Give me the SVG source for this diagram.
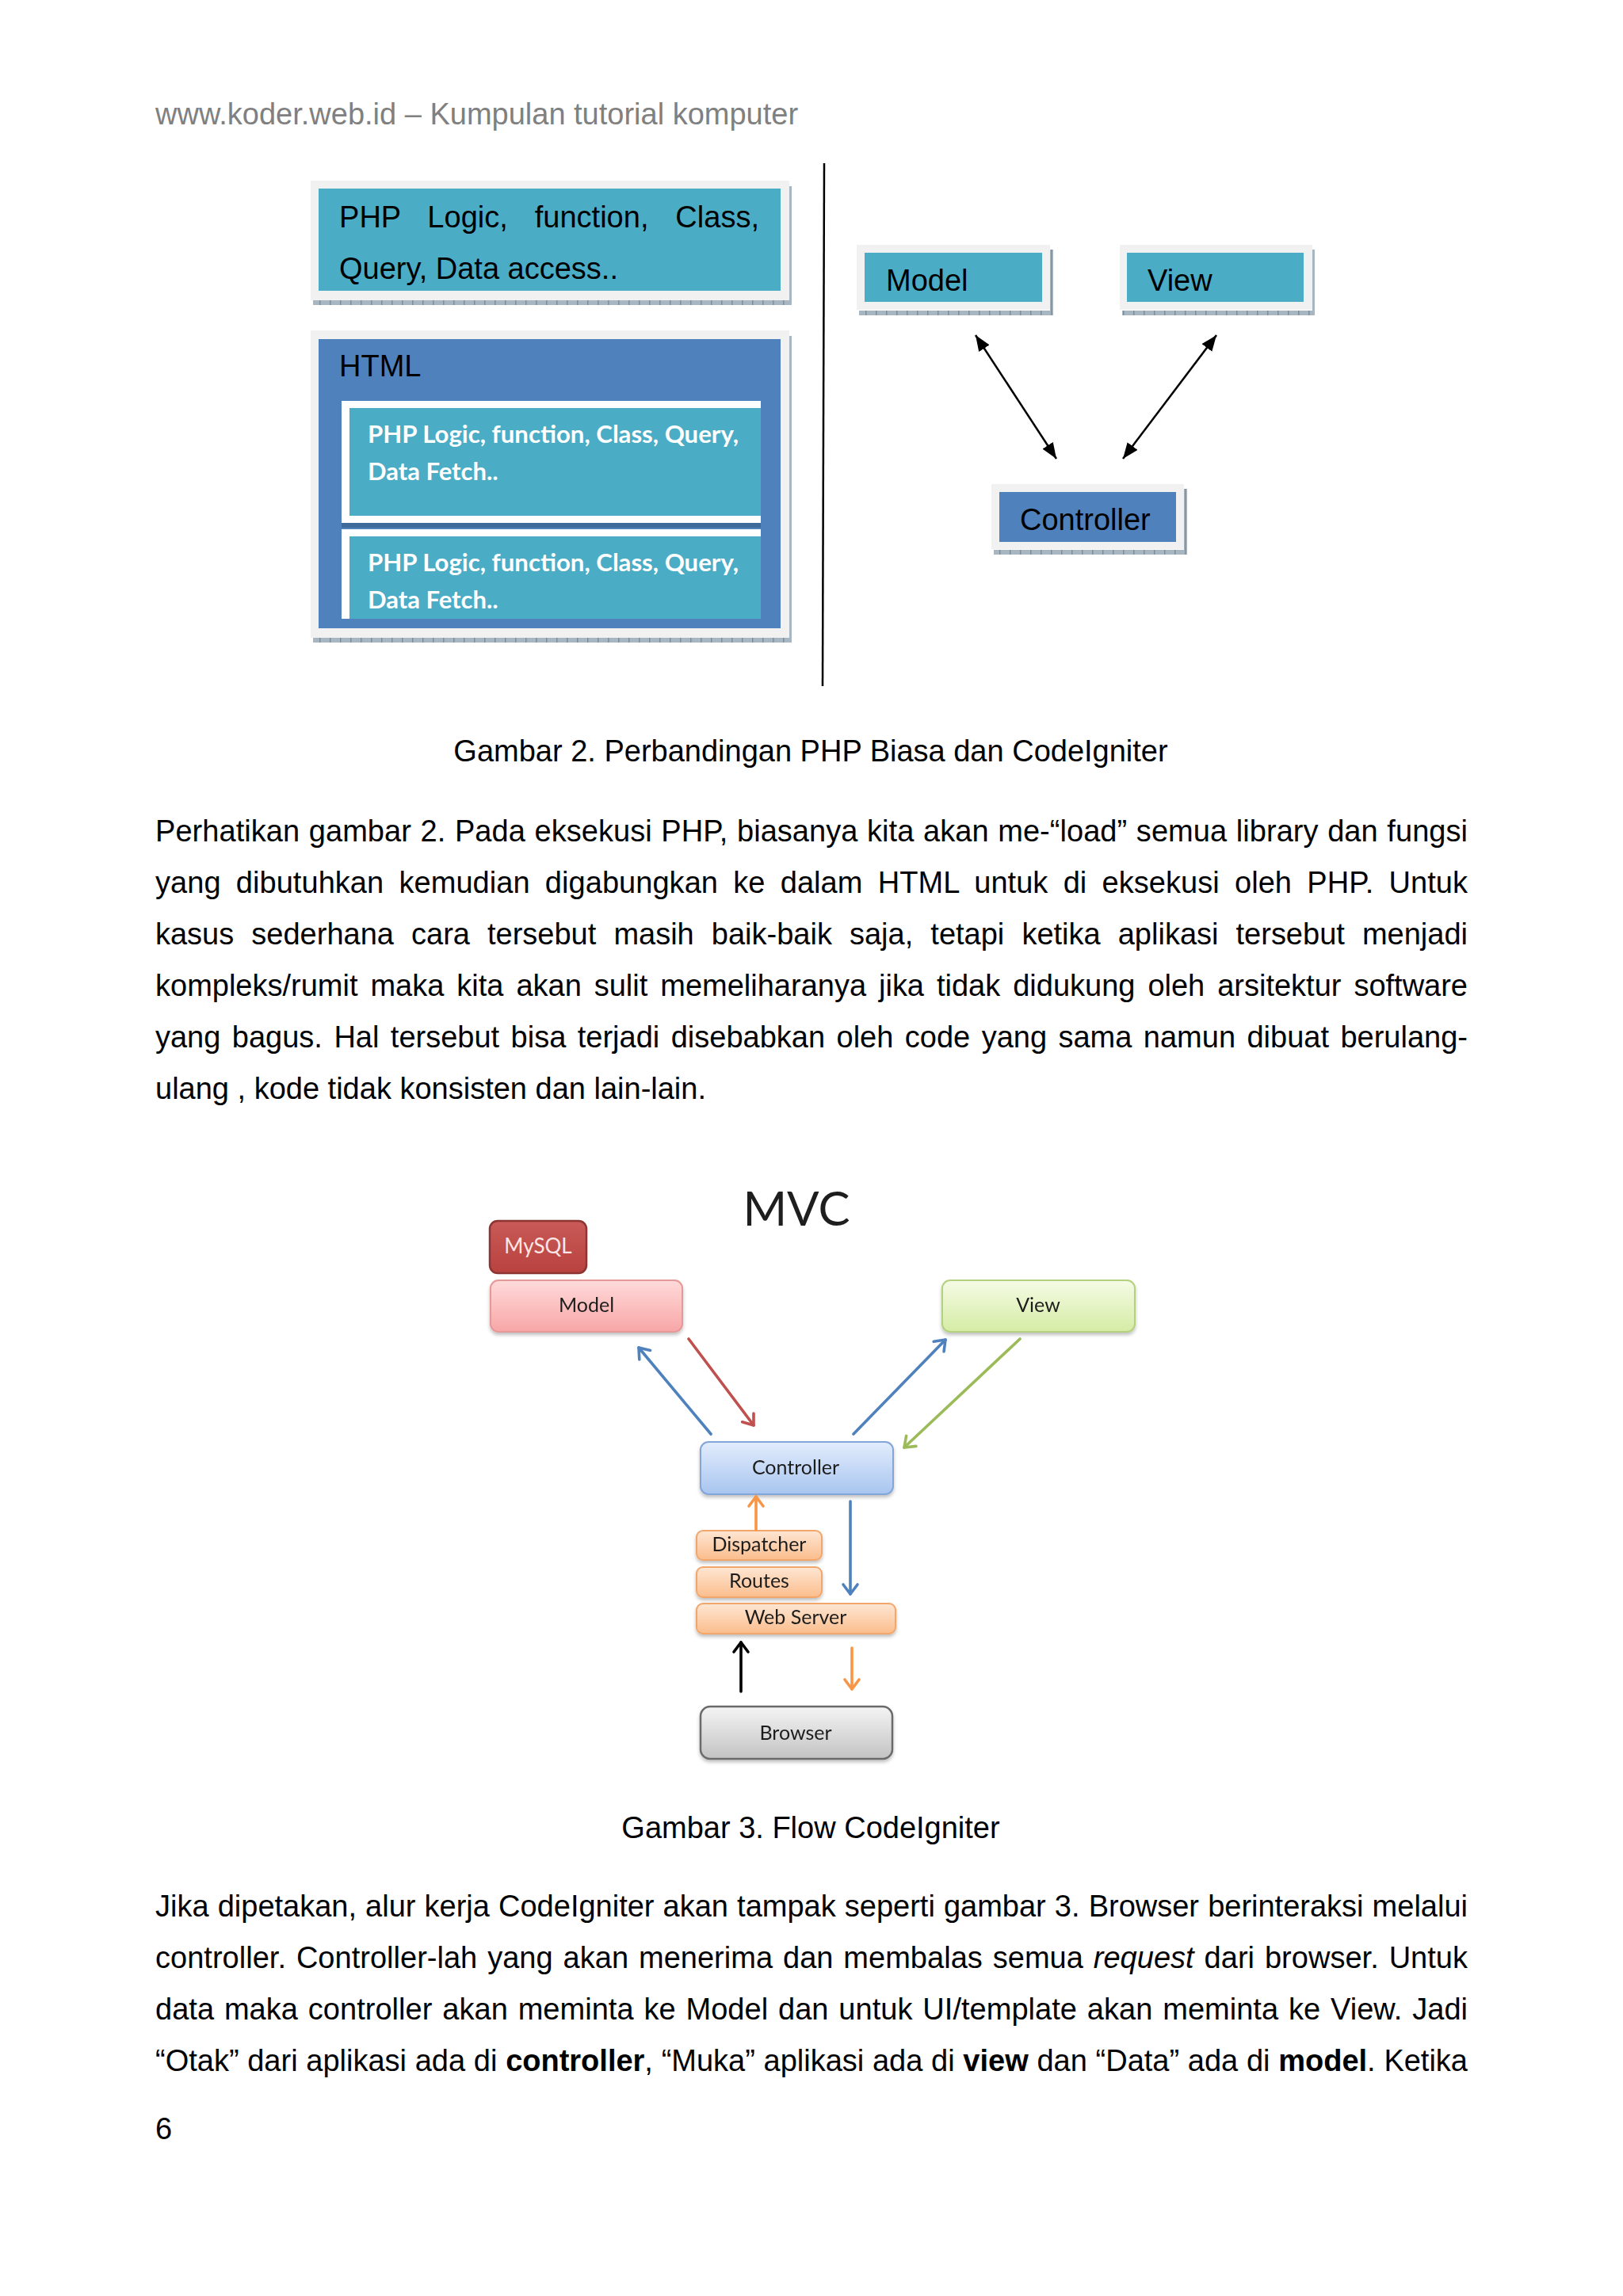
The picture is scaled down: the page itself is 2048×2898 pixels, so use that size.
<svg xmlns="http://www.w3.org/2000/svg" width="2048" height="2898" viewBox="0 0 2048 2898">
<style>
.ar{font-family:"Liberation Sans",Arial,sans-serif;font-size:38px;fill:#000}
.hdr{fill:#808080}
.cal{font-family:Lato,"Carlito","Open Sans",sans-serif;fill:#1e1e1e}
.wb{font-family:Lato,"Carlito","Open Sans",sans-serif;font-weight:bold;font-size:31px;fill:#fff}
.lbl{font-size:25px;text-anchor:middle}
.frame{fill:#f1f1f1}
.teal{fill:#4bacc6}
.blue{fill:#4f81bd}
.strip{fill:url(#hatch)}
.c2{stroke:#000;stroke-width:2.5;fill:none}
.mv{fill:none;stroke-width:3.6;stroke-linecap:round}
</style>
<defs>
<pattern id="hatch" patternUnits="userSpaceOnUse" width="13" height="13">
<rect width="13" height="13" fill="#a7b6c1"/>
<rect x="0" width="1.5" height="13" fill="#7d8e9b"/>
</pattern>
<marker id="tri" viewBox="0 0 20 16" refX="20" refY="8" markerWidth="20" markerHeight="16" markerUnits="userSpaceOnUse" orient="auto-start-reverse">
<path d="M0,0 L20,8 L0,16 Z" fill="#000"/>
</marker>
<marker id="hBlue" viewBox="-16 -12 20 24" refX="0" refY="0" markerWidth="20" markerHeight="24" markerUnits="userSpaceOnUse" orient="auto">
<path d="M-12,-9 L0,0 L-12,9" fill="none" stroke="#4f81bd" stroke-width="3.6" stroke-linecap="round" stroke-linejoin="round"/>
</marker>
<marker id="hRed" viewBox="-16 -12 20 24" refX="0" refY="0" markerWidth="20" markerHeight="24" markerUnits="userSpaceOnUse" orient="auto">
<path d="M-12,-9 L0,0 L-12,9" fill="none" stroke="#c0504d" stroke-width="3.6" stroke-linecap="round" stroke-linejoin="round"/>
</marker>
<marker id="hGreen" viewBox="-16 -12 20 24" refX="0" refY="0" markerWidth="20" markerHeight="24" markerUnits="userSpaceOnUse" orient="auto">
<path d="M-12,-9 L0,0 L-12,9" fill="none" stroke="#9bbb59" stroke-width="3.6" stroke-linecap="round" stroke-linejoin="round"/>
</marker>
<marker id="hOrange" viewBox="-16 -12 20 24" refX="0" refY="0" markerWidth="20" markerHeight="24" markerUnits="userSpaceOnUse" orient="auto">
<path d="M-12,-9 L0,0 L-12,9" fill="none" stroke="#f79646" stroke-width="3.6" stroke-linecap="round" stroke-linejoin="round"/>
</marker>
<marker id="hBlack" viewBox="-16 -12 20 24" refX="0" refY="0" markerWidth="20" markerHeight="24" markerUnits="userSpaceOnUse" orient="auto">
<path d="M-12,-9 L0,0 L-12,9" fill="none" stroke="#000" stroke-width="3.6" stroke-linecap="round" stroke-linejoin="round"/>
</marker>
<linearGradient id="gPink" x1="0" y1="0" x2="0" y2="1"><stop offset="0" stop-color="#ffdada"/><stop offset="1" stop-color="#f8a6a6"/></linearGradient>
<linearGradient id="gGreen" x1="0" y1="0" x2="0" y2="1"><stop offset="0" stop-color="#f5fbe6"/><stop offset="1" stop-color="#d5eca4"/></linearGradient>
<linearGradient id="gBlue" x1="0" y1="0" x2="0" y2="1"><stop offset="0" stop-color="#e2ecfc"/><stop offset="1" stop-color="#a8c5ef"/></linearGradient>
<linearGradient id="gOrange" x1="0" y1="0" x2="0" y2="1"><stop offset="0" stop-color="#fee6d3"/><stop offset="1" stop-color="#fbbd8c"/></linearGradient>
<linearGradient id="gGrey" x1="0" y1="0" x2="0" y2="1"><stop offset="0" stop-color="#f4f4f4"/><stop offset="1" stop-color="#c3c3c3"/></linearGradient>
<linearGradient id="gRed" x1="0" y1="0" x2="0" y2="1"><stop offset="0" stop-color="#c85a57"/><stop offset="1" stop-color="#b9423f"/></linearGradient>
<filter id="sh" x="-10%" y="-20%" width="120%" height="150%">
<feDropShadow dx="0" dy="3" stdDeviation="2" flood-color="#000" flood-opacity="0.25"/>
</filter>
</defs>
<rect width="2048" height="2898" fill="#fff"/>

<text class="ar hdr" x="196" y="157">www.koder.web.id – Kumpulan tutorial komputer</text>

<!-- Figure 2 left -->
<g id="php-box">
<rect class="strip" x="395" y="379" width="604" height="6"/>
<rect class="strip" x="996" y="235" width="3" height="150"/>
<rect class="frame" x="392" y="228" width="604" height="151"/>
<rect class="teal" x="402" y="238" width="583" height="129"/>
<text class="ar" x="428" y="287" word-spacing="23.2" textLength="530" lengthAdjust="spacing">PHP Logic, function, Class,</text>
<text class="ar" x="428" y="352">Query, Data access..</text>
</g>
<g id="html-box">
<rect class="strip" x="395" y="804" width="604" height="7"/>
<rect class="strip" x="996" y="424" width="3" height="387"/>
<rect class="frame" x="392" y="417" width="604" height="388"/>
<rect class="blue" x="402" y="428" width="583" height="365"/>
<text class="ar" x="428" y="475">HTML</text>
</g>
<g id="inner-box-1">
<rect x="431" y="660" width="529" height="6" fill="#3f6b9c"/>
<rect x="431" y="506" width="529" height="154" fill="#fff"/>
<rect class="teal" x="441" y="515" width="519" height="136"/>
<text class="wb" x="464" y="559" textLength="468" lengthAdjust="spacingAndGlyphs">PHP Logic, function, Class, Query,</text>
<text class="wb" x="464" y="606">Data Fetch..</text>
</g>
<g id="inner-box-2">
<rect x="431" y="668" width="529" height="113" fill="#fff"/>
<rect class="teal" x="441" y="677" width="519" height="104"/>
<text class="wb" x="464" y="721" textLength="468" lengthAdjust="spacingAndGlyphs">PHP Logic, function, Class, Query,</text>
<text class="wb" x="464" y="768">Data Fetch..</text>
</g>

<line id="divider" x1="1040" y1="206" x2="1038" y2="866" stroke="#000" stroke-width="2.5"/>

<!-- Figure 2 right -->
<g id="mvc-model">
<rect class="strip" x="1084" y="392" width="245" height="6"/>
<rect class="strip" x="1325" y="315" width="4" height="83"/>
<rect class="frame" x="1081" y="309" width="244" height="82"/>
<rect class="teal" x="1091" y="319" width="224" height="62"/>
<text class="ar" x="1118" y="367">Model</text>
</g>
<g id="mvc-view">
<rect class="strip" x="1416" y="392" width="243" height="6"/>
<rect class="strip" x="1656" y="315" width="3" height="83"/>
<rect class="frame" x="1413" y="309" width="243" height="82"/>
<rect class="teal" x="1422" y="319" width="223" height="62"/>
<text class="ar" x="1448" y="367">View</text>
</g>
<g id="mvc-controller">
<rect class="strip" x="1254" y="694" width="244" height="6"/>
<rect class="strip" x="1494" y="617" width="4" height="83"/>
<rect class="frame" x="1251" y="611" width="243" height="82"/>
<rect class="blue" x="1261" y="621" width="223" height="63"/>
<text class="ar" x="1287" y="669">Controller</text>
</g>
<g id="fig2-connectors">
<line class="c2" x1="1231" y1="423" x2="1333" y2="579" marker-start="url(#tri)" marker-end="url(#tri)"/>
<line class="c2" x1="1535" y1="423" x2="1417" y2="579" marker-start="url(#tri)" marker-end="url(#tri)"/>
</g>

<text class="ar" x="1023" y="961" text-anchor="middle">Gambar 2. Perbandingan PHP Biasa dan CodeIgniter</text>

<g id="para1" class="ar">
<text x="196" y="1062" word-spacing="0.99" textLength="1656" lengthAdjust="spacing">Perhatikan gambar 2. Pada eksekusi PHP, biasanya kita akan me-“load” semua library dan fungsi</text>
<text x="196" y="1127" word-spacing="8.65" textLength="1656" lengthAdjust="spacing">yang dibutuhkan kemudian digabungkan ke dalam HTML untuk di eksekusi oleh PHP. Untuk</text>
<text x="196" y="1192" word-spacing="11.54" textLength="1656" lengthAdjust="spacing">kasus sederhana cara tersebut masih baik-baik saja, tetapi ketika aplikasi tersebut menjadi</text>
<text x="196" y="1257" word-spacing="5.41" textLength="1656" lengthAdjust="spacing">kompleks/rumit maka kita akan sulit memeliharanya jika tidak didukung oleh arsitektur software</text>
<text x="196" y="1322" word-spacing="3.91" textLength="1656" lengthAdjust="spacing">yang bagus. Hal tersebut bisa terjadi disebabkan oleh code yang sama namun dibuat berulang-</text>
<text x="196" y="1387">ulang , kode tidak konsisten dan lain-lain.</text>
</g>

<!-- Figure 3 -->
<text class="cal" x="1005" y="1547" font-size="60" text-anchor="middle">MVC</text>
<g id="mysql">
<rect x="618" y="1541" width="122" height="66" rx="10" fill="url(#gRed)" stroke="#8c3532" stroke-width="2.5"/>
<text class="cal lbl" x="679" y="1582" style="fill:#fbe6e5;font-size:26px">MySQL</text>
</g>
<g id="model" filter="url(#sh)">
<rect x="619" y="1616" width="242" height="65" rx="10" fill="url(#gPink)" stroke="#e59a99" stroke-width="2"/>
<text class="cal lbl" x="740" y="1656">Model</text>
</g>
<g id="view" filter="url(#sh)">
<rect x="1189" y="1616" width="243" height="65" rx="10" fill="url(#gGreen)" stroke="#b3d17e" stroke-width="2"/>
<text class="cal lbl" x="1310" y="1656">View</text>
</g>
<g id="controller" filter="url(#sh)">
<rect x="884" y="1820" width="243" height="66" rx="10" fill="url(#gBlue)" stroke="#82a6da" stroke-width="2"/>
<text class="cal lbl" x="1004" y="1861">Controller</text>
</g>
<g id="dispatcher" filter="url(#sh)">
<rect x="879" y="1932" width="158" height="37" rx="8" fill="url(#gOrange)" stroke="#f2a66a" stroke-width="2"/>
<text class="cal lbl" x="958" y="1958">Dispatcher</text>
</g>
<g id="routes" filter="url(#sh)">
<rect x="879" y="1978" width="158" height="38" rx="8" fill="url(#gOrange)" stroke="#f2a66a" stroke-width="2"/>
<text class="cal lbl" x="958" y="2004">Routes</text>
</g>
<g id="webserver" filter="url(#sh)">
<rect x="879" y="2024" width="251" height="38" rx="8" fill="url(#gOrange)" stroke="#f2a66a" stroke-width="2"/>
<text class="cal lbl" x="1004" y="2050">Web Server</text>
</g>
<g id="browser" filter="url(#sh)">
<rect x="884" y="2154" width="242" height="66" rx="12" fill="url(#gGrey)" stroke="#6b6b6b" stroke-width="2.5"/>
<text class="cal lbl" x="1004" y="2196">Browser</text>
</g>
<g id="fig3-connectors">
<line class="mv" x1="897" y1="1810" x2="806" y2="1701" stroke="#4f81bd" marker-end="url(#hBlue)"/>
<line class="mv" x1="869" y1="1690" x2="951" y2="1799" stroke="#c0504d" marker-end="url(#hRed)"/>
<line class="mv" x1="1077" y1="1810" x2="1193" y2="1691" stroke="#4f81bd" marker-end="url(#hBlue)"/>
<line class="mv" x1="1287" y1="1690" x2="1141" y2="1827" stroke="#9bbb59" marker-end="url(#hGreen)"/>
<line class="mv" x1="954" y1="1931" x2="954" y2="1889" stroke="#f79646" marker-end="url(#hOrange)"/>
<line class="mv" x1="1073" y1="1895" x2="1073" y2="2012" stroke="#4f81bd" marker-end="url(#hBlue)"/>
<line class="mv" x1="935" y1="2135" x2="935" y2="2073" stroke="#000" marker-end="url(#hBlack)"/>
<line class="mv" x1="1075" y1="2080" x2="1075" y2="2132" stroke="#f79646" marker-end="url(#hOrange)"/>
</g>

<text class="ar" x="1023" y="2320" text-anchor="middle">Gambar 3. Flow CodeIgniter</text>

<g id="para2" class="ar">
<text x="196" y="2419" word-spacing="0.56" textLength="1656" lengthAdjust="spacing">Jika dipetakan, alur kerja CodeIgniter akan tampak seperti gambar 3. Browser berinteraksi melalui</text>
<text x="196" y="2484" word-spacing="2.34" textLength="1656" lengthAdjust="spacing">controller. Controller-lah yang akan menerima dan membalas semua <tspan font-style="italic">request</tspan> dari browser. Untuk</text>
<text x="196" y="2549" word-spacing="2.28" textLength="1656" lengthAdjust="spacing">data maka controller akan meminta ke Model dan untuk UI/template akan meminta ke View. Jadi</text>
<text x="196" y="2614" word-spacing="0.15" textLength="1656" lengthAdjust="spacing">“Otak” dari aplikasi ada di <tspan font-weight="bold">controller</tspan>, “Muka” aplikasi ada di <tspan font-weight="bold">view</tspan> dan “Data” ada di <tspan font-weight="bold">model</tspan>. Ketika</text>
</g>
<text class="ar" x="196" y="2700">6</text>
</svg>
